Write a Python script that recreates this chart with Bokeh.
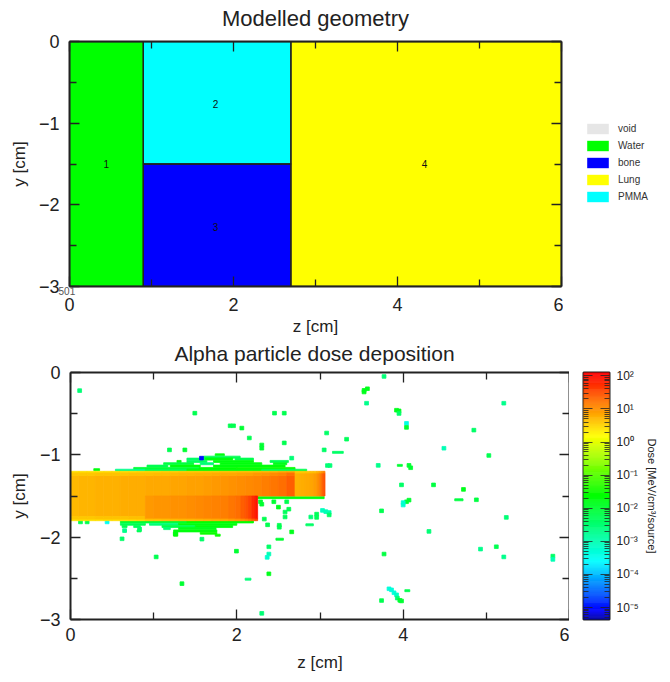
import numpy as np
from bokeh.core.properties import value
from bokeh.embed import file_html
from bokeh.layouts import column, row
from bokeh.models import (ColumnDataSource, CustomJSTickFormatter, FixedTicker, Label, Legend,
                          LegendItem, LinearAxis, LogAxis, LogColorMapper)
from bokeh.plotting import figure
from bokeh.resources import INLINE

FONT = "Liberation Sans"
INK = "#222222"

# ---- geometry ----
materials = ["void", "Water", "bone", "Lung", "PMMA"]
material_colors = ["#e6e6e6", "#00ff00", "#0000ff", "#ffff00", "#00ffff"]
region_material = ["Water", "PMMA", "bone", "Lung"]
region_z0 = [0.0, 0.9, 0.9, 2.7]
region_z1 = [0.9, 2.7, 2.7, 6.0]
region_y0 = [-3.0, -1.5, -3.0, -3.0]
region_y1 = [0.0, 0.0, -1.5, 0.0]
region_label = ["1", "2", "3", "4"]
region_label_z = [0.45, 1.78, 1.78, 4.33]
region_label_y = [-1.5, -0.77, -2.27, -1.5]

# ---- dose: beam segments (MeV/cm3/source) ----
segA_z = [0, .1, .2, .3, .4, .5, .6, .7, .8, .9]
segA_core = [5.2, 5.4, 5.6, 5.8, 5.9, 6.0, 6.2, 6.3, 6.5]
segA_edge = [2.6, 2.65, 2.7, 2.7, 2.75, 2.8, 2.85, 2.9, 3.0]
segA_shoulder = [4.0, 4.05, 4.1, 4.2, 4.2, 4.3, 4.3, 4.4, 4.5]
segB_z = [.9, 1.0, 1.1, 1.2, 1.3, 1.4, 1.5, 1.6, 1.7, 1.8, 1.9, 2.0, 2.1, 2.2, 2.3, 2.4, 2.5, 2.6, 2.7]
segB_core = [6.6, 6.8, 7.0, 7.2, 7.5, 7.7, 8, 8.3, 8.8, 9.3, 10, 10.7, 11.5, 12.7, 14, 16, 19, 25]
segB_edge = [3.2, 3.3, 3.4, 3.5, 3.6, 3.7, 3.8, 3.9, 4, 4.2, 4.3, 4.5, 4.7, 5, 5.3, 5.7, 6.2, 7]
segB_shoulder = [4.6, 4.8, 5, 5.2, 5.4, 5.6, 5.8, 6, 6.3, 6.6, 7, 7.5, 8, 8.7, 9.5, 10.7, 12.5, 17]
segC_z = [.9, 1.0, 1.1, 1.2, 1.3, 1.4, 1.5, 1.6, 1.7, 1.8, 1.9, 1.98, 2.05, 2.1, 2.14, 2.18, 2.22, 2.25]
segC_core = [9, 9.3, 9.7, 10, 10.5, 11, 11.5, 12.2, 13, 14.2, 16.5, 19, 24, 30, 40, 58, 85]
segC_edge = [4.5, 4.7, 5, 5.2, 5.5, 5.7, 6, 6.5, 7, 7.5, 8.5, 9.5, 11, 13, 17, 24, 35]
segD_z = [2.7, 2.76, 2.82, 2.88, 2.92, 2.96, 2.99, 3.02, 3.04, 3.06]
segD_core = [6, 6.2, 6.6, 7.3, 8.5, 10.5, 14, 20, 30]
segD_edge = [4, 4.1, 4.3, 4.6, 5, 6, 7.5, 9.5, 13]

# ---- dose: strips of scattered cells around the beam ----
strip_y = [-1.0, -1.028, -1.052, -1.052, -1.052, -1.08, -1.08, -1.08, -1.08,
           -1.108, -1.108, -1.108, -1.108, -1.137, -1.137, -1.137,
           -1.165, -1.165, -1.165, -1.187, -1.187, -1.187, -1.187, -1.18,
           -1.815, -1.815, -1.843, -1.843, -1.843, -1.871, -1.871, -1.871, -1.871,
           -1.896, -1.896, -1.924, -1.924, -1.924, -1.952, -1.952, -1.976, -1.976,
           -1.52, -0.97, -1.546, -2.51, -2.025, -2.65, -1.85, -1.128]
strip_z0 = [1.74, 1.60, 1.40, 1.62, 1.98, 1.28, 1.40, 1.72, 2.40,
            1.12, 1.56, 1.80, 2.44, .92, 1.2, 1.72,
            .76, 1.55, 2.0, .54, .9, 1.4, 2.3, .28,
            .6, 1.4, .6, .95, 1.3, .62, .76, 1.1, 1.5,
            1.12, 1.3, .64, .80, 1.24, 1.24, 1.56, 1.24, 1.74,
            2.25, 3.15, 4.62, 2.10, 2.47, 4.02, 2.83, 3.93]
strip_z1 = [1.85, 2.04, 1.62, 1.95, 2.2, 1.33, 1.64, 2.2, 2.62,
            1.48, 1.72, 2.3, 2.60, 1.17, 1.56, 2.58,
            1.55, 2.0, 2.70, .9, 1.4, 2.3, 2.84, .35,
            1.4, 2.2, .9, 1.3, 2.0, .68, .84, 1.5, 1.95,
            1.2, 1.75, .67, .85, 1.76, 1.29, 1.76, 1.29, 1.8,
            3.05, 3.28, 4.72, 2.17, 2.56, 4.08, 2.92, 3.99]
strip_dose = [.02, .006, .004, .02, .006, .02, .005, .02, .006,
              .008, .003, .02, .015, .006, .02, .02,
              .01, .025, .03, .002, .006, .02, .006, .02,
              .01, .025, .006, .003, .02, .006, .005, .006, .02,
              .003, .015, .005, .006, .02, .02, .03, .03, .03,
              .02, .004, .008, .003, .01, .006, .004, .01]

# ---- dose: isolated cells ----
cell_z = [.11, 1.495, 2.453, 2.57, 2.06, 2.15, 2.30, 2.30, 2.57, 3.08, 3.05, 1.19, 1.375,
          1.575, 2.66, 3.09, 3.12, .12, .20, .44, .62, .65, .83, 1.26, 1.58, 1.03, 1.34, 1.995,
          2.385, 2.30, 2.385, 2.385, 2.365, 2.66, 2.51, 2.51, 2.33, 2.37, 2.58, 2.58, 2.625,
          2.5, 2.30, 2.285, 2.445, 2.6, 2.89, 2.96, 2.96, 3.03, 3.07, 3.11, 3.11,
          3.77, 3.53, 3.57, 3.53, 3.56, 5.21, 3.92, 3.95, 3.95, 4.04, 4.04, 4.85, 3.32, 4.49,
          5.03, 3.70, 4.07, 4.09, 3.98, 4.365, 4.725, 4.88, 4.04, 4.07, 4.0, 4.0, 3.74, 5.24,
          4.31, 4.93, 5.12, 3.77, 5.21, 5.80, 5.80, 3.83, 3.86, 3.89, 3.92, 3.93, 3.96, 3.98, 3.74,
          1.92, 1.96]
cell_y = [-.22, -.494, -.494, -.494, -.675, -.795, -.88, -.92, -.855, -.735, -.94, -.94, -.94,
          -1.04, -1.04, -1.13, -1.13, -1.815, -1.815, -1.815, -2.02, -1.92, -1.9, -1.96, -2.024, -2.24, -2.565, -2.17,
          -2.445, -2.925, -2.117, -2.205, -2.245, -1.936, -1.855, -1.88, -1.78, -1.85, -1.755, -1.695, -1.66,
          -1.635, -1.6, -1.57, -1.57, -1.57, -1.755, -1.72, -1.76, -1.675, -1.69, -1.70, -1.73,
          -.048, -.217, -.197, -.237, -.373, -.373, -.458, -.466, -.498, -.618, -.667, -.70, -.81, -.92,
          -1.008, -1.128, -1.128, -1.157, -1.365, -1.365, -1.42, -1.546, -1.57, -1.55, -1.58, -1.61, -1.68, -1.76,
          -1.93, -2.145, -2.116, -2.205, -2.24, -2.23, -2.27, -2.627, -2.64, -2.675, -2.70, -2.74, -2.767, -2.775, -2.77,
          -.647, -.647]
cell_dose = [.003, .006, .006, .006, .01, .006, .01, .01, .006, .004, .004, .006, .01,
             .00001, .003, .003, .003, .006, .006, .0003, .004, .002, .004, .02, .004, .006, .01, .01,
             .015, .003, .004, .001, .0006, .015, .006, .006, .006, .006, .005, .005, .006,
             .015, .01, .01, .01, .006, .003, .005, .005, .0008, .001, .001, .004,
             .003, .015, .015, .015, .002, .002, .015, .015, .004, .0004, .01, .004, .005, .001,
             .006, .002, .01, .01, .004, .008, .015, .008, .01, .01, .0006, .0006, .006, .003,
             .003, .002, .006, .008, .002, .004, .001, .0005, .0005, .0005, .0007, .003, .01, .01, .006,
             .006, .006]
cell_half_z, cell_half_y = 0.023, 0.022

# ---- axes ----
z_ticks = [0, 2, 4, 6]
z_minor = [1, 3, 5]
y_ticks = [0, -1, -2, -3]
y_minor = [-.5, -1.5, -2.5]
y_labels = {0: "0", -1: "\u22121", -2: "\u22122", -3: "\u22123"}
decades = [-5, -4, -3, -2, -1, 0, 1, 2]

# ---- colour scale ----
anchor_log = [-5.36, -5.1, -3.6, -1.6, 0.2, 2.1]
anchor_rgb = [(0, 0, 160), (0, 0, 255), (0, 255, 255), (0, 255, 0), (255, 255, 0), (255, 0, 0)]
levels = np.linspace(-5.36, 2.1, 256)
palette = ["#%02x%02x%02x" % tuple(int(round(np.interp(v, anchor_log, [c[k] for c in anchor_rgb])))
                                    for k in range(3)) for v in levels]
mapper = LogColorMapper(palette=palette, low=10 ** -5.36, high=10 ** 2.1)


def style_axis(ax, labelled):
    ax.axis_line_color = INK
    ax.axis_line_width = 2
    ax.major_tick_line_color = INK
    ax.minor_tick_line_color = INK
    ax.major_tick_line_width = 1.3
    ax.minor_tick_line_width = 1.3
    ax.major_tick_in = 10
    ax.major_tick_out = 0
    ax.minor_tick_in = 7
    ax.minor_tick_out = 0
    ax.major_label_text_font = FONT
    if labelled:
        ax.major_label_text_color = INK
        ax.major_label_text_font_size = "18px"
        ax.axis_label_text_font = FONT
        ax.axis_label_text_font_size = "17px"
        ax.axis_label_text_font_style = "normal"
        ax.axis_label_text_color = INK
    else:
        ax.major_label_text_color = None
        ax.major_label_text_font_size = "1px"
        ax.major_label_standoff = 0


def build_axes(p, tick_off, label_off, y_label_off):
    zt = FixedTicker(ticks=z_ticks, minor_ticks=z_minor)
    yt = FixedTicker(ticks=y_ticks, minor_ticks=y_minor)
    xa, ya = p.xaxis[0], p.yaxis[0]
    xa.ticker = zt
    ya.ticker = yt
    xa.axis_label = "z [cm]"
    ya.axis_label = "y [cm]"
    ya.major_label_overrides = y_labels
    ya.major_label_orientation = "horizontal"
    style_axis(xa, True)
    style_axis(ya, True)
    xa.major_label_standoff = tick_off
    ya.major_label_standoff = 10
    xa.axis_label_standoff = label_off
    ya.axis_label_standoff = y_label_off
    top = LinearAxis(ticker=zt)
    right = LinearAxis(ticker=yt)
    style_axis(top, False)
    style_axis(right, False)
    p.add_layout(top, "above")
    p.add_layout(right, "right")
    p.grid.visible = False
    p.outline_line_color = None


def panel_title(p, text, z, y, size):
    p.add_layout(Label(x=z, y=y, text=text, text_align="center", text_baseline="middle", text_font=FONT,
                       text_font_size=size, text_color=INK), "above")


# ---- top panel ----
top = figure(width=563, height=340, x_range=(0, 6), y_range=(-3, 0),
             min_border_left=69, min_border_right=2, min_border_top=41, min_border_bottom=54,
             output_backend="svg", toolbar_location=None)
build_axes(top, 11, 3, 7)
panel_title(top, "Modelled geometry", 3.0, 0.282, "22px")

for name, col in zip(materials, material_colors):
    idx = [i for i, m in enumerate(region_material) if m == name]
    top.quad(left=[region_z0[i] for i in idx], right=[region_z1[i] for i in idx],
             bottom=[region_y0[i] for i in idx], top=[region_y1[i] for i in idx],
             fill_color=col, line_color=None)
top.quad(left=region_z0, right=region_z1, bottom=region_y0, top=region_y1,
         fill_color=None, line_color=INK, line_width=1.3)
top.text(x=region_label_z, y=region_label_y, text=region_label, text_align="center", text_baseline="middle",
         text_font=value(FONT), text_font_size="10px", text_color="#111111")
top.add_layout(Label(x=-0.134, y=-3.05, text="501", text_font=FONT, text_font_size="10px",
                     text_color="#555555", text_baseline="middle"), "above")

# ---- legend panel, to the right of the geometry ----
key = figure(width=105, height=340, x_range=(0, 1), y_range=(0, 1), min_border=0,
             output_backend="svg", toolbar_location=None)
key.xaxis.visible = False
key.yaxis.visible = False
key.grid.visible = False
key.outline_line_color = None
key_items = []
for name, col in zip(materials, material_colors):
    r = key.quad(left=[0], right=[0], bottom=[0], top=[0], fill_color=col, line_color=None)
    key_items.append(LegendItem(label=name, renderers=[r]))
key.add_layout(Legend(items=key_items, location=(21, 83), border_line_color=None, background_fill_color=None,
                      padding=0, margin=0, spacing=4, glyph_width=27, glyph_height=13, label_height=13,
                      label_standoff=7, label_text_font=FONT, label_text_font_size="10px",
                      label_text_color="#333333"), "center")

# ---- bottom panel ----
bot = figure(width=569, height=334, x_range=(0, 6), y_range=(-3, 0),
             min_border_left=70, min_border_right=0, min_border_top=32, min_border_bottom=53,
             output_backend="svg", toolbar_location=None)
build_axes(bot, 8, 9, 8)
panel_title(bot, "Alpha particle dose deposition", 2.934, 0.229, "21px")

L, R, B, T, D = [], [], [], [], []


def band(zs, doses, y0, y1):
    for a, b, d in zip(zs[:-1], zs[1:], doses):
        L.append(a); R.append(b); B.append(y0); T.append(y1); D.append(d)


for y, a, b, d in zip(strip_y, strip_z0, strip_z1, strip_dose):
    L.append(a); R.append(b); B.append(y - cell_half_y * .55); T.append(y + cell_half_y * .55); D.append(d)
for z, y, d in zip(cell_z, cell_y, cell_dose):
    L.append(z - cell_half_z); R.append(z + cell_half_z)
    B.append(y - cell_half_y); T.append(y + cell_half_y); D.append(d)

band(segA_z, segA_core, -1.75, -1.25)
band(segA_z, segA_edge, -1.22, -1.2)
band(segA_z, segA_shoulder, -1.25, -1.22)
band(segA_z, segA_edge, -1.8, -1.78)
band(segA_z, segA_shoulder, -1.78, -1.75)
band(segB_z, segB_core, -1.5, -1.25)
band(segB_z, segB_edge, -1.22, -1.2)
band(segB_z, segB_shoulder, -1.25, -1.22)
band(segC_z, segC_core, -1.78, -1.5)
band(segC_z, segC_edge, -1.8, -1.78)
band(segD_z, segD_core, -1.5, -1.22)
band(segD_z, segD_edge, -1.22, -1.2)

dose_src = ColumnDataSource(dict(left=L, right=R, bottom=B, top=T, dose=D))
bot.quad(left="left", right="right", bottom="bottom", top="top", source=dose_src,
         fill_color={"field": "dose", "transform": mapper},
         line_color={"field": "dose", "transform": mapper}, line_width=0.8)

# ---- colour bar panel ----
cb = figure(width=99, height=334, x_range=(0, 1), y_range=(10 ** -5.36, 10 ** 2.1),
            y_axis_type="log", y_axis_location="right",
            min_border_left=14, min_border_right=59, min_border_top=32, min_border_bottom=53,
            output_backend="svg", toolbar_location=None)
edges = 10 ** np.linspace(-5.36, 2.1, 257)
cb.quad(left=0, right=1, bottom=edges[:-1], top=edges[1:], fill_color=palette, line_color=palette, line_width=0.5)
cb.xaxis.visible = False
cb.grid.visible = False
cb.outline_line_color = INK
cb.outline_line_width = 2
log_ticks = FixedTicker(ticks=[10.0 ** d for d in decades],
                        minor_ticks=[m * 10.0 ** d for d in [-6] + decades for m in range(2, 10)
                                     if 10 ** -5.36 < m * 10.0 ** d < 10 ** 2.1])
ra = cb.yaxis[0]
ra.ticker = log_ticks
style_axis(ra, True)
ra.major_tick_in = 9
ra.minor_tick_in = 5
ra.major_tick_line_width = ra.minor_tick_line_width = 0.8
ra.axis_line_color = None
ra.major_label_standoff = 7
ra.major_label_text_font_size = "12px"
ra.axis_label = "Dose [MeV/cm\u00b3/source]"
ra.axis_label_text_font_size = "11px"
ra.axis_label_standoff = 4
ra.formatter = CustomJSTickFormatter(code="""
  const sup = {'-':'\\u207b','0':'\\u2070','1':'\\u00b9','2':'\\u00b2','3':'\\u00b3','4':'\\u2074','5':'\\u2075'};
  const e = String(Math.round(Math.log10(tick)));
  return '10' + e.split('').map(c => sup[c]).join('');
""")
la = LogAxis(ticker=log_ticks, formatter=CustomJSTickFormatter(code="return ' ';"))
style_axis(la, False)
la.major_tick_in = 9
la.minor_tick_in = 5
la.major_tick_line_width = la.minor_tick_line_width = 0.8
la.axis_line_color = None
cb.add_layout(la, "left")

page = column(row(top, key, spacing=0), row(bot, cb, spacing=0), spacing=0)
open("out.html", "w").write(file_html(page, INLINE))
